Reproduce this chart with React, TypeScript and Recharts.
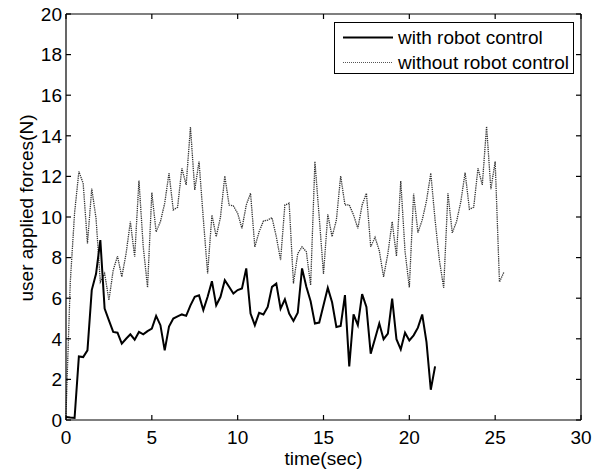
import { LineChart, Line, XAxis, YAxis, Legend, Label } from "recharts"

// sampling instants (s)
const timeSec = [
  0, 0.25, 0.5, 0.75, 1, 1.25, 1.5, 1.75, 2, 2.25, 2.5, 2.75,
  3, 3.25, 3.5, 3.75, 4, 4.25, 4.5, 4.75, 5, 5.25, 5.5, 5.75,
  6, 6.25, 6.5, 6.75, 7, 7.25, 7.5, 7.75, 8, 8.25, 8.5, 8.75,
  9, 9.25, 9.5, 9.75, 10, 10.25, 10.5, 10.75, 11, 11.25, 11.5, 11.75,
  12, 12.25, 12.5, 12.75, 13, 13.25, 13.5, 13.75, 14, 14.25, 14.5, 14.75,
  15, 15.25, 15.5, 15.75, 16, 16.25, 16.5, 16.75, 17, 17.25, 17.5, 17.75,
  18, 18.25, 18.5, 18.75, 19, 19.25, 19.5, 19.75, 20, 20.25, 20.5, 20.75,
  21, 21.25, 21.5, 21.75, 22, 22.25, 22.5, 22.75, 23, 23.25, 23.5, 23.75,
  24, 24.25, 24.5, 24.75, 25, 25.25, 25.5,
]

const forceWithRobot = [
  0.15, 0.12, 0.1, 3.13, 3.1, 3.43, 6.4, 7.2, 8.86, 5.49, 4.91, 4.34,
  4.3, 3.76, 4.0, 4.22, 3.96, 4.34, 4.22, 4.38, 4.5, 5.13, 4.67, 3.43,
  4.6, 5.0, 5.1, 5.2, 5.13, 5.65, 6.07, 6.14, 5.41, 6.07, 6.84, 5.65,
  6.07, 6.89, 6.56, 6.23, 6.4, 6.48, 7.47, 5.24, 4.67, 5.28, 5.2, 5.57,
  6.56, 6.72, 5.49, 5.95, 5.24, 4.88, 5.28, 7.47, 6.56, 5.85, 4.75, 4.8,
  5.65, 6.51, 5.8, 4.58, 4.63, 6.15, 2.64, 5.2, 4.67, 6.2, 5.57, 3.27,
  4.0, 4.75, 3.98, 4.26, 5.98, 3.98, 3.48, 4.3, 3.92, 4.17, 4.55, 5.2,
  3.84, 1.49, 2.64,
]

const forceWithoutRobot = [
  0.3, 6.8, 10.2, 12.24, 11.66, 8.7, 11.4, 9.93, 6.8, 7.22, 5.9, 7.38,
  8.07, 7.05, 8.2, 9.77, 8.04, 11.8, 8.53, 6.53, 11.2, 9.27, 9.77, 10.68,
  12.16, 10.35, 10.48, 12.4, 11.58, 14.43, 11.33, 12.73, 9.9, 7.22, 10.1, 9.03,
  10.0, 12.02, 10.59, 10.55, 10.18, 9.44, 10.59, 11.17, 8.53, 9.27, 9.8, 9.85,
  9.97, 9.03, 7.88, 10.59, 10.68, 6.73, 8.2, 8.53, 8.29, 6.64, 12.73, 10.0,
  7.19, 10.13, 9.03, 9.85, 12.02, 10.59, 10.6, 10.1, 9.44, 10.59, 11.17, 8.53,
  9.0, 8.34, 7.05, 8.2, 9.77, 8.07, 11.78, 8.3, 6.53, 11.15, 9.23, 9.85,
  10.8, 12.16, 9.85, 7.88, 6.51, 11.17, 9.22, 9.77, 10.76, 12.19, 10.38, 10.48,
  12.4, 11.58, 14.46, 11.37, 12.73, 6.8, 7.27,
]

const xTicks = [0, 5, 10, 15, 20, 25, 30]
const yTicks = [0, 2, 4, 6, 8, 10, 12, 14, 16, 18, 20]
const seriesNames = ["with robot control", "without robot control"]

const font = "'Liberation Sans', Arial, Helvetica, sans-serif"

const withData = forceWithRobot.map((f, i) => ({ t: timeSec[i], f }))
const withoutData = forceWithoutRobot.map((f, i) => ({ t: timeSec[i], f }))

// matlab style ticks: short marks pointing into the plot, labels only bottom/left
const makeTick = (side: "bottom" | "top" | "left" | "right") => (props: any) => {
  const { x, y, payload } = props
  const len = 5
  let line
  if (side === "bottom") line = <line x1={x} x2={x} y1={y} y2={y - len} stroke="#000" strokeWidth={1.2} />
  else if (side === "top") line = <line x1={x} x2={x} y1={y} y2={y + len} stroke="#000" strokeWidth={1.2} />
  else if (side === "left") line = <line x1={x} x2={x + len} y1={y} y2={y} stroke="#000" strokeWidth={1.2} />
  else line = <line x1={x} x2={x - len} y1={y} y2={y} stroke="#000" strokeWidth={1.2} />
  return (
    <g>
      {line}
      {side === "bottom" && (
        <text x={x} y={y + 23.5} textAnchor="middle" fontSize={19} fontFamily={font} fill="#000">
          {payload.value}
        </text>
      )}
      {side === "left" && (
        <text x={x - 4} y={y + 6.8} textAnchor="end" fontSize={19} fontFamily={font} fill="#000">
          {payload.value}
        </text>
      )}
    </g>
  )
}

const LegendBox = () => (
  <div
    style={{
      boxSizing: "border-box",
      width: 240,
      height: 52,
      border: "1px solid #000",
      background: "#fff",
      paddingTop: 2,
      fontFamily: font,
      fontSize: 19,
      color: "#000",
    }}
  >
    {seriesNames.map((name, i) => (
      <div key={name} style={{ display: "flex", alignItems: "center", height: 25, lineHeight: "25px" }}>
        <svg width={63} height={25} style={{ flex: "none" }}>
          <line
            x1={8}
            x2={58}
            y1={12.5}
            y2={12.5}
            stroke={i === 0 ? "#000" : "#555"}
            strokeWidth={i === 0 ? 2 : 1.2}
            strokeDasharray={i === 0 ? undefined : "1 1"}
          />
        </svg>
        <span style={{ whiteSpace: "nowrap" }}>{name}</span>
      </div>
    ))}
  </div>
)

export default function App() {
  return (
    <div style={{ position: "absolute", left: 0, top: 0, width: 606, height: 469, background: "#fff" }}>
      <LineChart width={606} height={469} margin={{ top: 13, right: 24, bottom: 0, left: 0 }}>
        <XAxis
          xAxisId="bottom"
          type="number"
          dataKey="t"
          domain={[0, 30]}
          ticks={xTicks}
          orientation="bottom"
          height={49}
          tickSize={0}
          tickMargin={0}
          tickLine={false}
          tick={makeTick("bottom")}
          axisLine={{ stroke: "#000", strokeWidth: 1.2 }}
        >
          <Label
            content={() => (
              <text x={323.5} y={465} textAnchor="middle" fontSize={19} fontFamily={font} fill="#000">
                time(sec)
              </text>
            )}
          />
        </XAxis>
        <XAxis
          xAxisId="top"
          type="number"
          dataKey="t"
          domain={[0, 30]}
          ticks={xTicks}
          orientation="top"
          height={1}
          tickSize={0}
          tickMargin={0}
          tickLine={false}
          tick={makeTick("top")}
          axisLine={{ stroke: "#000", strokeWidth: 1.2 }}
        />
        <YAxis
          yAxisId="left"
          type="number"
          domain={[0, 20]}
          ticks={yTicks}
          width={66}
          tickSize={0}
          tickMargin={0}
          tickLine={false}
          tick={makeTick("left")}
          axisLine={{ stroke: "#000", strokeWidth: 1.2 }}
        >
          <Label
            content={() => (
              <text
                x={26}
                y={208}
                transform="rotate(-90 26 208)"
                textAnchor="middle"
                dominantBaseline="central"
                fontSize={19}
                fontFamily={font}
                fill="#000"
              >
                user applied forces(N)
              </text>
            )}
          />
        </YAxis>
        <YAxis
          yAxisId="right"
          type="number"
          domain={[0, 20]}
          ticks={yTicks}
          orientation="right"
          width={1}
          tickSize={0}
          tickMargin={0}
          tickLine={false}
          tick={makeTick("right")}
          axisLine={{ stroke: "#000", strokeWidth: 1.2 }}
        />
        <Legend
          layout="vertical"
          align="center"
          verticalAlign="middle"
          wrapperStyle={{ left: 334, top: 21.5, width: 240 }}
          content={() => <LegendBox />}
        />
        <Line
          data={withoutData}
          xAxisId="bottom"
          yAxisId="left"
          dataKey="f"
          name={seriesNames[1]}
          type="linear"
          stroke="#333"
          strokeWidth={1.3}
          strokeDasharray="1.3 0.9"
          dot={false}
          isAnimationActive={false}
        />
        <Line
          data={withData}
          xAxisId="top"
          yAxisId="right"
          dataKey="f"
          name={seriesNames[0]}
          type="linear"
          stroke="#000"
          strokeWidth={2}
          dot={false}
          isAnimationActive={false}
        />
      </LineChart>
    </div>
  )
}
